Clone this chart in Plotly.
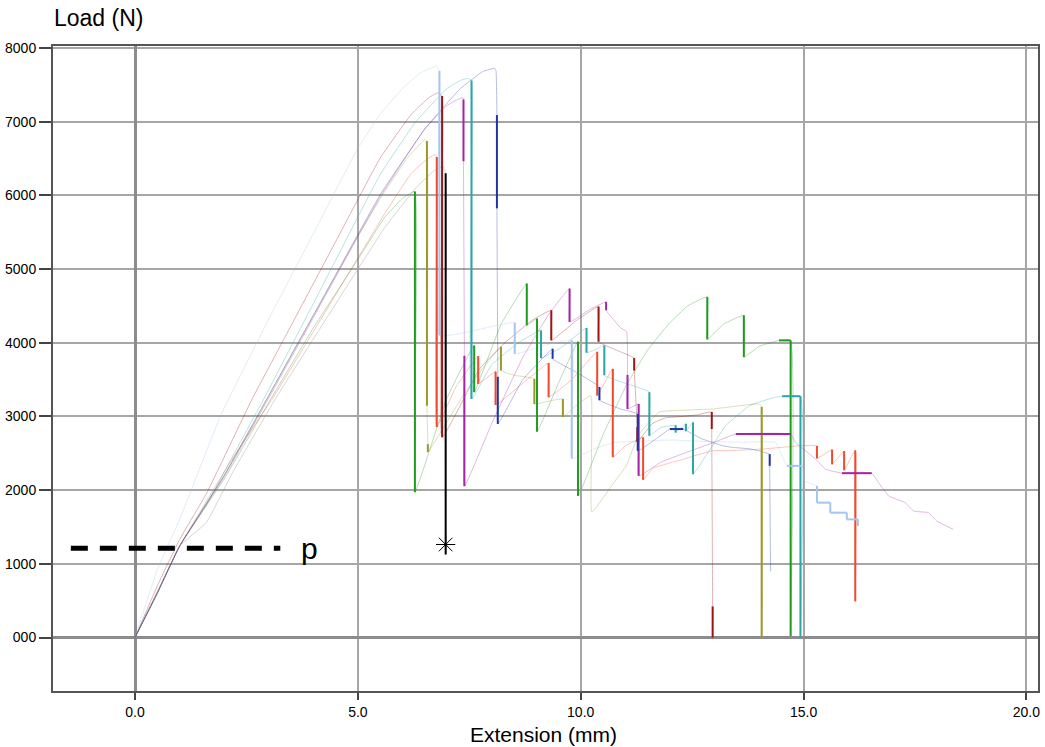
import plotly.graph_objects as go

# ---------------- data (Extension mm, Load N) ----------------
green_x = [0, 0.5, 1.0, 2.0, 3.05, 4.0, 5.0, 5.6, 6.0, 6.28, 6.28, 6.47, 7.0, 7.61, 7.61, 8.22, 8.79, 8.79, 9.02, 9.02, 9.5, 9.94, 9.94, 10.5, 11.02, 11.5, 11.98, 12.4, 12.84, 12.84, 13.2, 13.66, 13.66, 14.0, 14.45, 14.71, 14.71]
green_y = [0, 600, 1240, 2150, 3239, 4200, 5130, 5700, 5960, 6054, 1970, 2284, 3250, 3963, 3329, 4259, 4804, 4236, 4328, 2793, 3450, 4015, 1921, 2750, 3418, 3900, 4259, 4500, 4623, 4045, 4250, 4372, 3805, 3950, 4032, 4032, 20]

olive_x = [0, 0.5, 1.0, 2.0, 2.96, 4.0, 5.0, 5.6, 6.1, 6.50, 6.55, 6.55, 6.57, 6.57, 7.36, 7.8, 8.21, 8.21, 8.5, 8.96, 8.96, 9.3, 9.6, 9.6, 9.9, 10.23, 10.25, 10.8, 11.02, 11.3, 11.76, 12.5, 12.95, 13.5, 14.0, 14.06, 14.06]
olive_y = [0, 610, 1240, 2200, 3239, 4370, 5450, 6050, 6500, 6757, 6737, 3146, 2624, 2515, 3282, 3650, 3945, 3623, 3560, 3510, 3169, 3210, 3237, 2992, 3150, 3283, 1703, 2150, 2329, 2750, 3060, 3090, 3101, 3140, 3170, 3130, 0]

red_x = [0, 0.5, 1.0, 1.6, 2.1, 3.08, 4.0, 5.0, 5.6, 6.2, 6.55, 6.73, 6.77, 6.77, 7.2, 7.70, 7.70, 8.09, 8.09, 8.7, 9.28, 9.28, 9.8, 10.37, 10.37, 10.72, 10.72, 11.0, 11.40, 11.40, 11.61, 12.3, 12.95, 13.5, 14.07, 14.5, 14.89, 15.30, 15.30, 15.64, 15.64, 15.91, 15.91, 16.16, 16.16]
red_y = [0, 620, 1240, 1800, 2350, 3239, 4150, 5150, 5750, 6300, 6490, 6553, 6520, 2857, 3400, 3819, 3442, 3609, 3156, 3450, 3724, 3261, 3500, 3877, 3283, 3646, 2447, 2600, 2716, 2139, 2294, 2420, 2533, 2540, 2557, 2580, 2601, 2600, 2430, 2550, 2350, 2530, 2270, 2540, 490]

darkred_x = [0, 0.5, 1.0, 1.6, 2.63, 3.5, 4.5, 5.5, 6.2, 6.6, 6.80, 6.89, 6.89, 7.73, 8.3, 8.9, 9.34, 9.34, 9.9, 10.40, 10.40, 10.8, 11.2, 11.2, 11.25, 11.27, 11.27, 11.6, 11.9, 12.3, 12.6, 12.94, 12.94, 12.96, 12.96]
darkred_y = [0, 700, 1330, 1950, 3239, 4230, 5370, 6506, 7100, 7330, 7393, 7347, 2717, 3646, 4000, 4300, 4441, 4032, 4300, 4491, 4014, 3900, 3792, 3623, 3100, 2857, 2652, 2900, 2980, 3000, 3020, 3060, 2829, 422, 0]

black_x = [0, 0.5, 1.0, 1.6, 2.2, 3.15, 4.0, 5.0, 5.6, 6.3, 6.7, 6.91, 6.97, 6.97]
black_y = [0, 600, 1240, 1560, 2250, 3239, 4050, 5000, 5560, 6100, 6330, 6395, 6300, 1126]

teal_x = [0, 0.5, 1.0, 2.0, 2.89, 4.0, 5.5, 6.3, 7.0, 7.3, 7.47, 7.55, 7.55, 8.0, 8.6, 9.11, 9.11, 9.6, 10.13, 10.13, 10.3, 10.53, 10.53, 11.0, 11.54, 11.54, 11.8, 12.13, 12.13, 12.36, 12.36, 12.52, 12.52, 13.25, 13.8, 14.30, 14.52, 14.93, 14.93]
teal_y = [0, 620, 1240, 2250, 3239, 4530, 6281, 7000, 7450, 7560, 7588, 7560, 3238, 3700, 4000, 4168, 3792, 3950, 4200, 3864, 3900, 3963, 3560, 3450, 3329, 2738, 2850, 2880, 2780, 2900, 2800, 2920, 2216, 2874, 3150, 3250, 3274, 3274, 0]

purple_x = [0, 0.5, 1.0, 2.0, 3.0, 4.0, 5.5, 6.5, 7.0, 7.25, 7.36, 7.37, 7.37, 7.39, 7.39, 8.0, 8.7, 9.3, 9.75, 9.75, 10.2, 10.57, 10.57, 10.9, 11.03, 11.05, 11.05, 11.3, 11.3, 11.8, 12.36, 13.0, 13.48, 14.71, 14.82, 15.27, 15.49, 15.86, 16.53, 16.68, 16.91, 17.28, 17.47, 17.80, 17.99, 18.36]
purple_y = [0, 600, 1240, 2180, 3250, 4340, 5980, 6900, 7220, 7305, 7326, 7302, 6463, 3824, 2053, 2900, 3800, 4400, 4736, 4282, 4450, 4554, 4441, 4200, 4150, 3564, 3101, 3169, 2193, 2380, 2510, 2650, 2761, 2761, 2648, 2420, 2284, 2230, 2230, 2103, 1921, 1830, 1716, 1694, 1580, 1467]

blue_x = [0, 0.5, 1.0, 2.0, 2.96, 4.0, 5.5, 6.5, 7.3, 7.8, 8.07, 8.10, 8.12, 8.12, 8.14, 8.14, 8.7, 9.37, 9.37, 9.9, 10.42, 10.42, 10.9, 11.28, 11.28, 11.7, 12.0, 12.3, 12.7, 13.2, 13.4, 13.8, 14.24, 14.24, 14.26]
blue_y = [0, 600, 1240, 2200, 3239, 4370, 6008, 6900, 7450, 7680, 7725, 7690, 7090, 5824, 3538, 2897, 3500, 3918, 3782, 3600, 3400, 3220, 3100, 3033, 2533, 2700, 2829, 2829, 2700, 2600, 2580, 2560, 2488, 2329, 899]

lightblue_x = [0, 0.5, 1.0, 1.92, 3.0, 4.0, 5.0, 5.5, 6.0, 6.4, 6.77, 6.83, 6.83, 7.5, 8.0, 8.52, 8.52, 9.1, 9.80, 9.80, 10.3, 10.76, 11.24, 12.0, 12.8, 13.6, 14.37, 14.63, 14.97, 15.02, 15.30, 15.30, 15.60, 15.60, 15.97, 15.97, 16.22, 16.22]
lightblue_y = [0, 920, 1600, 3010, 4320, 5480, 6640, 7100, 7450, 7660, 7757, 7687, 4100, 4150, 4220, 4273, 3850, 3950, 4032, 2430, 2560, 2648, 2660, 2680, 2660, 2650, 2648, 2329, 2329, 2125, 2057, 1830, 1830, 1694, 1694, 1603, 1603, 1512]

# failure marker (star) and the "p" reference line
star_x = [6.97]
star_y = [1262]
p_x = [-1.44, 3.26]
p_y = [1210, 1210]
p_label = "p"

x_ticks = [0, 5, 10, 15, 20]
x_ticktext = ["0.0", "5.0", "10.0", "15.0", "20.0"]
y_ticks = [0, 1000, 2000, 3000, 4000, 5000, 6000, 7000, 8000]
y_ticktext = ["000", "1000", "2000", "3000", "4000", "5000", "6000", "7000", "8000"]

specimens = [
    ("green", green_x, green_y),
    ("olive", olive_x, olive_y),
    ("red", red_x, red_y),
    ("darkred", darkred_x, darkred_y),
    ("black", black_x, black_y),
    ("teal", teal_x, teal_y),
    ("purple", purple_x, purple_y),
    ("blue", blue_x, blue_y),
    ("lightblue", lightblue_x, lightblue_y),
]

colors = {
    "green": "#1e9a1e",
    "olive": "#9a9826",
    "red": "#f04a2c",
    "darkred": "#9c1414",
    "black": "#000000",
    "teal": "#2aa6a6",
    "purple": "#a424a8",
    "blue": "#2234a4",
    "lightblue": "#a4c6ee",
}
faint_colors = {
    "black": "#808080",
}

FONT = "Liberation Sans, Arial, sans-serif"

fig = go.Figure()

# faint full paths
for name, xs, ys in specimens:
    fig.add_trace(go.Scatter(
        x=xs, y=ys, mode="lines",
        line=dict(color=faint_colors.get(name, colors[name]), width=1, shape="spline", smoothing=0.3),
        opacity=0.32, hoverinfo="skip", showlegend=False))

# bold segments: vertical drops and flat holds taken from the data
for name, xs, ys in specimens:
    bx, by = [], []
    for i in range(len(xs) - 1):
        if xs[i] == xs[i + 1] or ys[i] == ys[i + 1]:
            bx += [xs[i], xs[i + 1], None]
            by += [ys[i], ys[i + 1], None]
    fig.add_trace(go.Scatter(
        x=bx, y=by, mode="lines",
        line=dict(color=colors[name], width=2),
        hoverinfo="skip", showlegend=False))

fig.add_trace(go.Scatter(
    x=star_x, y=star_y, mode="markers",
    marker=dict(symbol="asterisk-open", size=16, color="black",
                line=dict(color="black", width=1)),
    showlegend=False, hoverinfo="skip"))

fig.add_trace(go.Scatter(
    x=p_x, y=p_y, mode="lines",
    line=dict(color="black", width=5, dash="17px,12px"),
    showlegend=False, hoverinfo="skip"))

fig.add_annotation(x=p_x[1] + 0.42, y=p_y[0], text=p_label, showarrow=False,
                   xanchor="left", yanchor="middle",
                   font=dict(family=FONT, size=30, color="black"))

fig.add_annotation(xref="paper", yref="paper", x=-0.001, y=1.043, text="Load (N)",
                   showarrow=False, xanchor="left", yanchor="middle",
                   font=dict(family=FONT, size=23, color="black"))
fig.add_annotation(xref="paper", yref="paper", x=0.498, y=-0.067, text="Extension (mm)",
                   showarrow=False, xanchor="center", yanchor="middle",
                   font=dict(family=FONT, size=21, color="black"))

axis_common = dict(
    showgrid=True, gridcolor="#a6a6a6", gridwidth=1.6,
    zeroline=True, zerolinecolor="#8c8c8c", zerolinewidth=3,
    showline=True, linecolor="#555555", linewidth=2, mirror=True,
    ticks="outside", tickcolor="#444444", tickwidth=1.5,
    tickfont=dict(family=FONT, size=14, color="black"),
)

fig.update_layout(
    width=1045, height=747,
    margin=dict(l=52, r=5, t=46, b=56),
    paper_bgcolor="white", plot_bgcolor="white",
    showlegend=False,
    xaxis=dict(range=[-1.84, 20.26], tickvals=x_ticks, ticktext=x_ticktext,
               ticklen=7, **axis_common),
    yaxis=dict(range=[-726, 8027], tickvals=y_ticks, ticktext=y_ticktext,
               ticklen=12, **axis_common),
)

fig.write_html("out.html")
